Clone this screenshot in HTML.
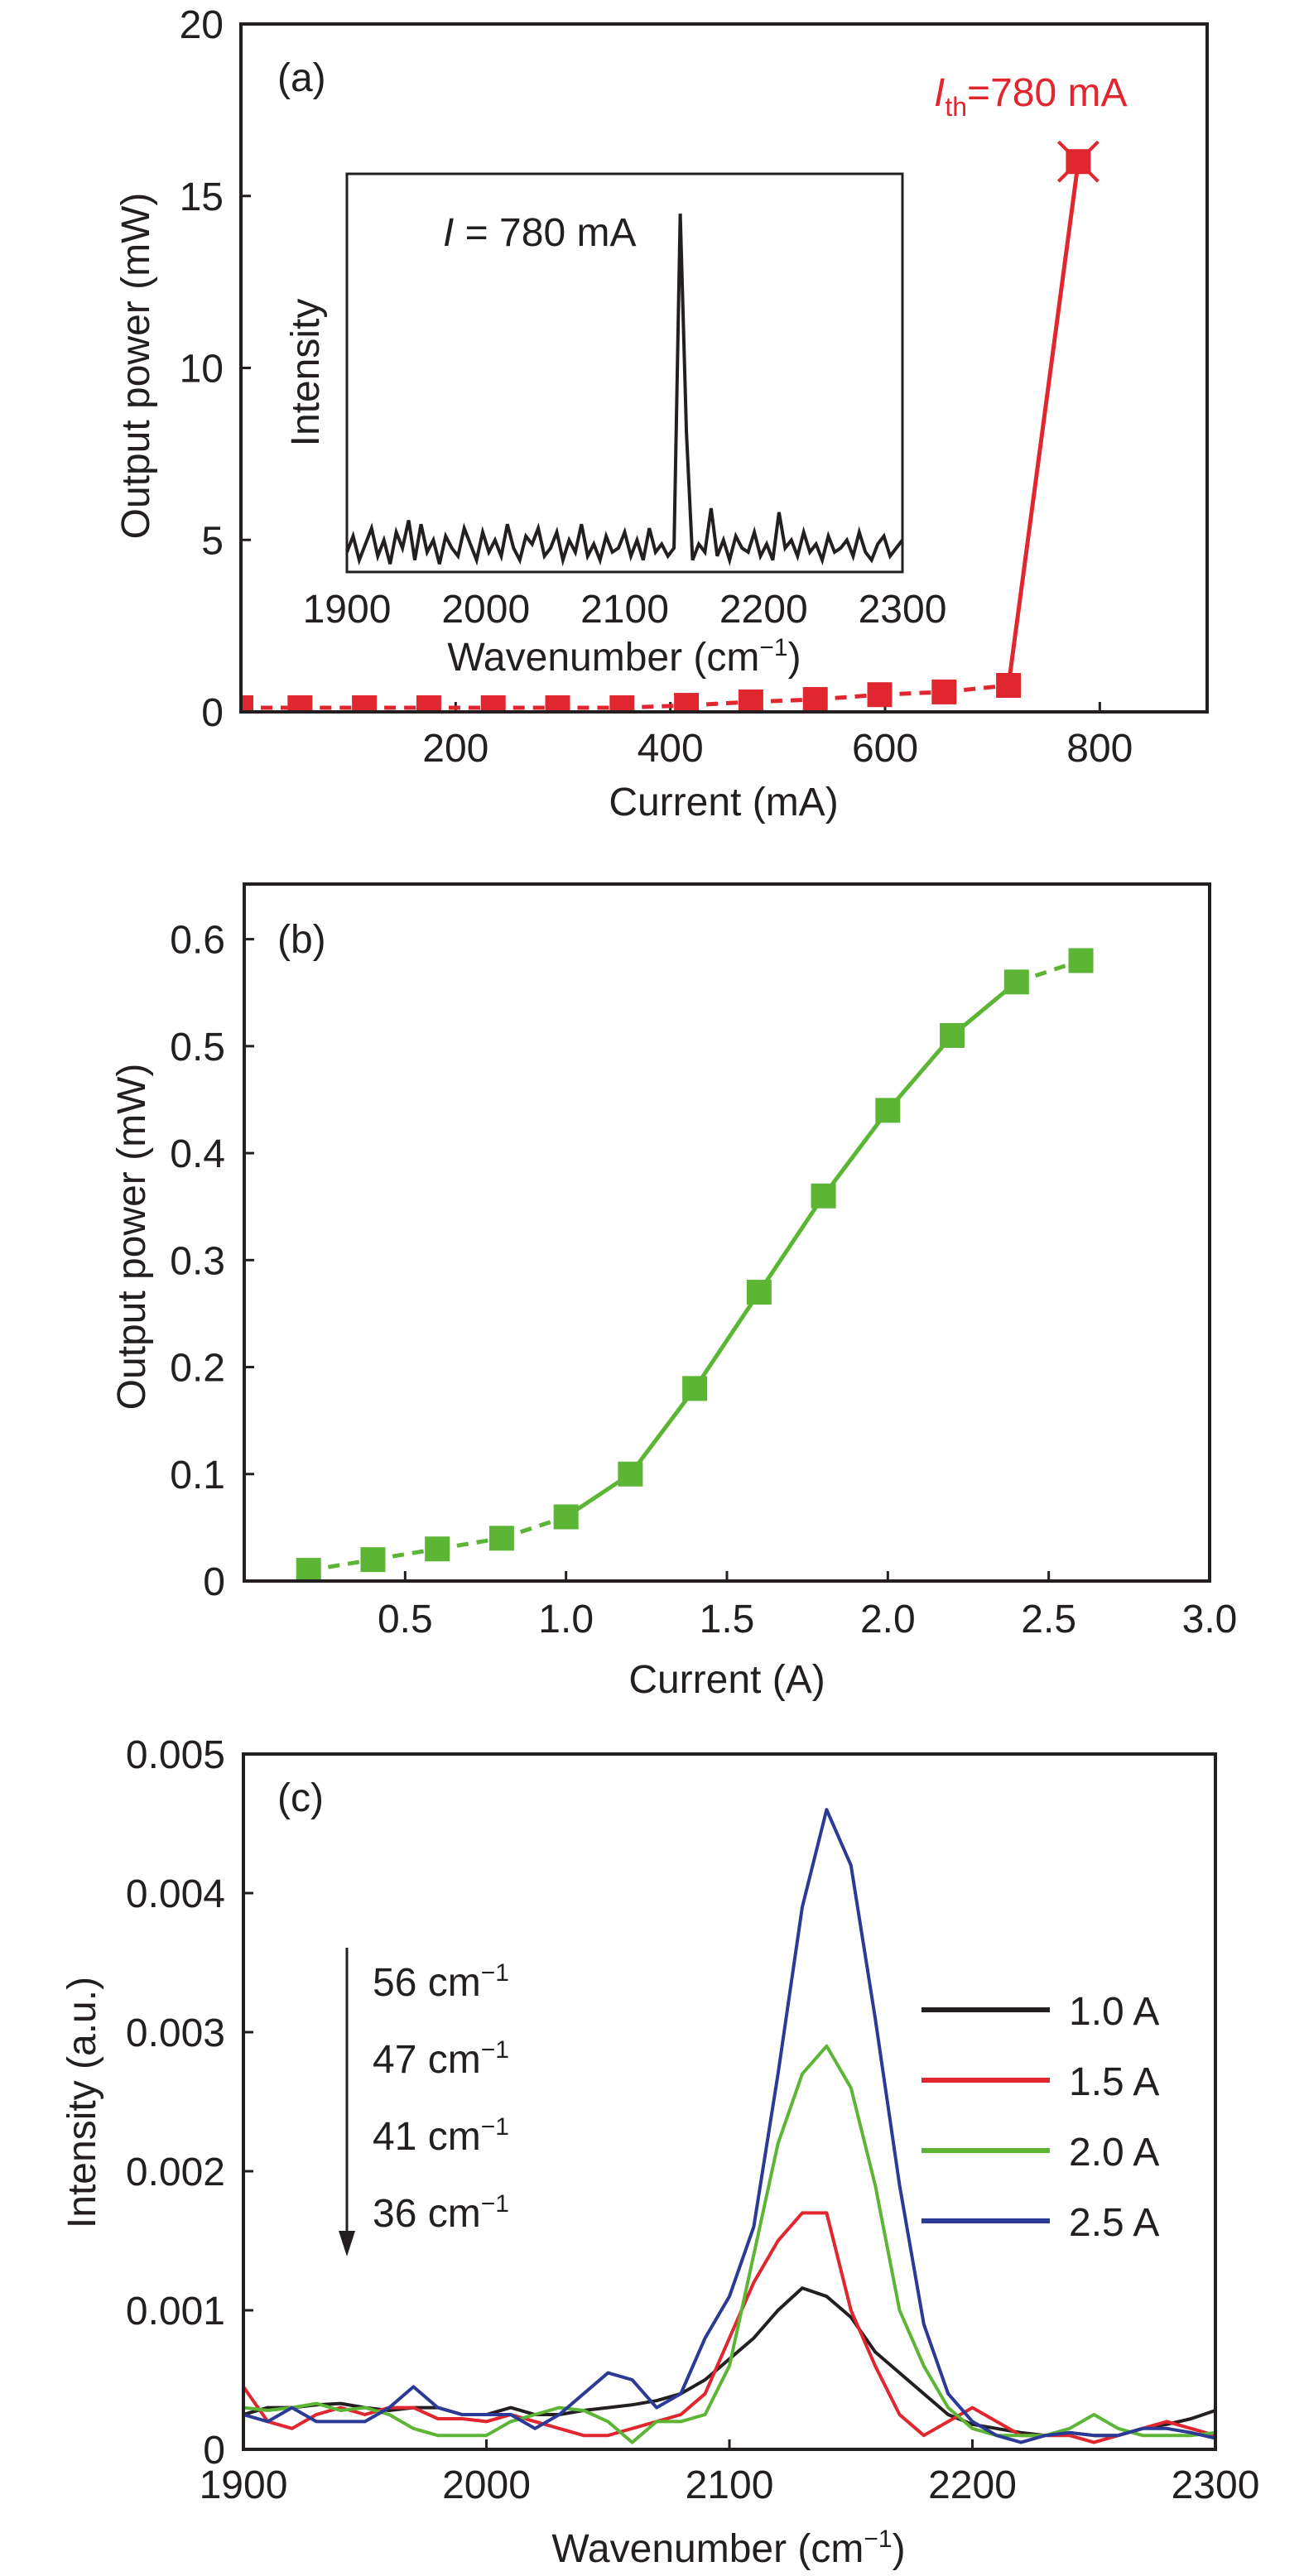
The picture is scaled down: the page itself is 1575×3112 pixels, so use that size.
<!DOCTYPE html>
<html><head><meta charset="utf-8"><style>
html,body{margin:0;padding:0;background:#fff;}
svg{display:block;}
text{font-family:"Liberation Sans",sans-serif;fill:#231f20;}
.tk{font-size:48px;}
.tt{font-size:48px;}
</style></head>
<body>
<svg id="fig" width="1575" height="3112" viewBox="0 0 1575 3112" xmlns="http://www.w3.org/2000/svg"></svg>
<script>
// ---------- Panel (a) data ----------
const aCurrent = [0,55,115,175,235,295,355,415,475,535,595,655,715,780];
const aPower = [0.12,0.12,0.12,0.12,0.12,0.12,0.12,0.19,0.29,0.36,0.5,0.58,0.77,16];
const aXTicks = [200,400,600,800];
const aYTicks = [0,5,10,15,20];
// inset
const insetTicks = [1900,2000,2100,2200,2300];
const insetNoise = [0.05,0.09,0.03,0.07,0.11,0.04,0.08,0.02,0.1,0.06,0.13,0.03,0.12,0.05,0.08,0.02,0.09,0.06,0.04,0.11,0.07,0.03,0.1,0.05,0.08,0.04,0.12,0.06,0.03,0.09,0.07,0.11,0.04,0.06,0.1,0.03,0.08,0.05,0.12,0.04,0.07,0.03,0.09,0.05,0.06,0.1,0.04,0.08,0.03,0.11,0.05,0.07,0.04,0.06,0.9,0.35,0.03,0.07,0.05,0.16,0.04,0.08,0.03,0.09,0.06,0.05,0.1,0.04,0.07,0.03,0.15,0.06,0.08,0.04,0.1,0.05,0.07,0.03,0.09,0.05,0.06,0.08,0.04,0.1,0.05,0.03,0.07,0.09,0.04,0.06,0.08];
// ---------- Panel (b) data ----------
const bCurrent = [0.2,0.4,0.6,0.8,1.0,1.2,1.4,1.6,1.8,2.0,2.2,2.4,2.6];
const bPower = [0.01,0.02,0.03,0.04,0.06,0.1,0.18,0.27,0.36,0.44,0.51,0.56,0.58];
const bXTicks = [0.5,1.0,1.5,2.0,2.5,3.0];
const bYTicks = [0,0.1,0.2,0.3,0.4,0.5,0.6];
// ---------- Panel (c) data ----------
const cWave = [1900,1910,1920,1930,1940,1950,1960,1970,1980,1990,2000,2010,2020,2030,2040,2050,2060,2070,2080,2090,2100,2110,2120,2130,2140,2150,2160,2170,2180,2190,2200,2210,2220,2230,2240,2250,2260,2270,2280,2290,2300];
const c10 = [0.00025,0.0003,0.0003,0.00032,0.00033,0.0003,0.00028,0.0003,0.0003,0.00025,0.00025,0.0003,0.00025,0.00025,0.00028,0.0003,0.00032,0.00035,0.0004,0.0005,0.00065,0.0008,0.001,0.00116,0.0011,0.00095,0.0007,0.00055,0.0004,0.00025,0.00018,0.00015,0.00012,0.0001,0.00012,0.0001,0.0001,0.00015,0.00018,0.00022,0.00028];
const c15 = [0.00045,0.0002,0.00015,0.00025,0.0003,0.00025,0.0003,0.0003,0.00022,0.00022,0.0002,0.00025,0.0002,0.00015,0.0001,0.0001,0.00015,0.0002,0.00025,0.0004,0.0008,0.0012,0.0015,0.0017,0.0017,0.001,0.0006,0.00025,0.0001,0.0002,0.0003,0.0002,0.0001,0.0001,0.0001,0.00005,0.0001,0.00015,0.0002,0.00015,0.0001];
const c20 = [0.0003,0.00028,0.0003,0.00033,0.00028,0.0003,0.00025,0.00015,0.0001,0.0001,0.0001,0.0002,0.00025,0.0003,0.00028,0.0002,0.00005,0.0002,0.0002,0.00025,0.0006,0.0014,0.0022,0.0027,0.0029,0.0026,0.0019,0.001,0.0006,0.0003,0.00015,0.0001,0.0001,0.0001,0.00015,0.00025,0.00015,0.0001,0.0001,0.0001,0.00012];
const c25 = [0.00025,0.0002,0.0003,0.0002,0.0002,0.0002,0.0003,0.00045,0.0003,0.00025,0.00025,0.00025,0.00015,0.00025,0.0004,0.00055,0.0005,0.0003,0.0004,0.0008,0.0011,0.0016,0.0027,0.0039,0.0046,0.0042,0.0031,0.0019,0.0009,0.0004,0.0002,0.0001,0.00005,0.0001,0.00012,0.0001,0.0001,0.00015,0.00015,0.00012,0.00008];
const cSeriesNames = ["1.0 A","1.5 A","2.0 A","2.5 A"];
const cXTicks = [1900,2000,2100,2200,2300];
const cYTicks = [0,0.001,0.002,0.003,0.004,0.005];
const cWidths = ["56","47","41","36"];

const NS="http://www.w3.org/2000/svg";
const svg=document.getElementById('fig');
function el(tag,attrs,parent,txt){const e=document.createElementNS(NS,tag);for(const k in attrs)e.setAttribute(k,attrs[k]);if(txt!==undefined)e.textContent=txt;(parent||svg).appendChild(e);return e;}
function lin(d0,d1,r0,r1){return v=>r0+(v-d0)/(d1-d0)*(r1-r0);}

// ================= Panel A =================
const aG=el('g',{});


const ax=lin(0,900,291,1458), ay=lin(0,20,860,29);
el('defs',{},svg).innerHTML='<clipPath id="clipA"><rect x="291" y="29" width="1167" height="831"/></clipPath><clipPath id="clipB"><rect x="295" y="1068" width="1166" height="842"/></clipPath><clipPath id="clipC"><rect x="294" y="2119" width="1174" height="840"/></clipPath>';
aYTicks.forEach(v=>{
  el('line',{x1:291,x2:303,y1:ay(v),y2:ay(v),stroke:'#231f20','stroke-width':3},aG);
  const t=el('text',{x:270,y:ay(v)+17,'text-anchor':'end',class:'tk'},aG,String(v));
  
  
});
aXTicks.forEach(v=>{
  el('line',{x1:ax(v),x2:ax(v),y1:860,y2:848,stroke:'#231f20','stroke-width':3},aG);
  const t=el('text',{x:ax(v),y:920,'text-anchor':'middle',class:'tk'},aG,String(v));
  
  
});
const aData=el('g',{'clip-path':'url(#clipA)'},aG);
for(let i=0;i<aCurrent.length-1;i++){
  const last=i===aCurrent.length-2;
  el('line',{x1:ax(aCurrent[i]),y1:ay(aPower[i]),x2:ax(aCurrent[i+1]),y2:ay(aPower[i+1]),stroke:'#e0262f','stroke-width':5,'stroke-dasharray':last?'none':'14 10'},aData);
}
aCurrent.forEach((c,i)=>{
  const r=el('rect',{x:ax(c)-15,y:ay(aPower[i])-15,width:30,height:30,fill:'#e0262f'},aData);
  
  
});
// X-shaped decoration on threshold marker
const tx=ax(780),ty=ay(16);
el('path',{d:`M${tx-24} ${ty-24}L${tx+24} ${ty+24}M${tx+24} ${ty-24}L${tx-24} ${ty+24}`,stroke:'#e0262f','stroke-width':4},aG);
el('rect',{x:291,y:29,width:1167,height:831,fill:'none',stroke:'#231f20','stroke-width':4},aG);
el('text',{x:335,y:110,class:'tt'},aG,'(a)');
const ith=el('text',{x:1128,y:128,class:'tt',style:'fill:#e0262f'},aG);


ith.innerHTML='<tspan font-style="italic" style="fill:#e0262f">I</tspan><tspan dy="12" font-size="32" style="fill:#e0262f">th</tspan><tspan dy="-12" style="fill:#e0262f">=780 mA</tspan>';
const axt=el('text',{x:874,y:985,'text-anchor':'middle',class:'tt'},aG,'Current (mA)');


const ayt=el('text',{x:0,y:0,'text-anchor':'middle',class:'tt',transform:'translate(180,442) rotate(-90)'},aG,'Output power (mW)');


// inset
const iG=el('g',{},aG);


const ix=lin(1900,2300,419,1090), iy=lin(0,1,691,210);
el('rect',{x:419,y:210,width:671,height:481,fill:'#fff'},iG);
const step=400/(insetNoise.length-1);
let pts=insetNoise.map((v,i)=>`${ix(1900+i*step).toFixed(1)},${iy(v).toFixed(1)}`).join(' ');
const ip=el('polyline',{points:pts,fill:'none',stroke:'#231f20','stroke-width':4},iG);


el('rect',{x:419,y:210,width:671,height:481,fill:'none',stroke:'#231f20','stroke-width':3},iG);
insetTicks.forEach(v=>{
  const t=el('text',{x:ix(v),y:752,'text-anchor':'middle',class:'tk'},iG,String(v));
  
  
});
el('text',{x:754,y:810,'text-anchor':'middle',class:'tt'},iG).innerHTML='Wavenumber (cm<tspan dy="-18" font-size="30">−1</tspan><tspan dy="18">)</tspan>';
el('text',{x:0,y:0,'text-anchor':'middle',class:'tt',transform:'translate(385,450) rotate(-90)'},iG,'Intensity');
el('text',{x:535,y:297,class:'tt'},iG).innerHTML='<tspan font-style="italic">I</tspan> = 780 mA';

// ================= Panel B =================
const bG=el('g',{});


const bx=lin(0,3,295,1461), by=lin(0,0.65,1910,1070);
bYTicks.forEach(v=>{
  el('line',{x1:295,x2:307,y1:by(v),y2:by(v),stroke:'#231f20','stroke-width':3},bG);
  const t=el('text',{x:272,y:by(v)+17,'text-anchor':'end',class:'tk'},bG,v===0?'0':v.toFixed(1));
  
  
});
bXTicks.forEach(v=>{
  el('line',{x1:bx(v),x2:bx(v),y1:1910,y2:1898,stroke:'#231f20','stroke-width':3},bG);
  const t=el('text',{x:bx(v),y:1972,'text-anchor':'middle',class:'tk'},bG,v.toFixed(1));
  
  
});
const bData=el('g',{'clip-path':'url(#clipB)'},bG);
for(let i=0;i<bCurrent.length-1;i++){
  const dashed=(i<4||i===bCurrent.length-2);
  el('line',{x1:bx(bCurrent[i]),y1:by(bPower[i]),x2:bx(bCurrent[i+1]),y2:by(bPower[i+1]),stroke:'#5db535','stroke-width':5,'stroke-dasharray':dashed?'14 10':'none'},bData);
}
bCurrent.forEach((c,i)=>{
  const r=el('rect',{x:bx(c)-15,y:by(bPower[i])-15,width:30,height:30,fill:'#5db535'},bData);
  
  
});
el('rect',{x:295,y:1068,width:1166,height:842,fill:'none',stroke:'#231f20','stroke-width':4},bG);
el('text',{x:335,y:1151,class:'tt'},bG,'(b)');
const bxt=el('text',{x:878,y:2045,'text-anchor':'middle',class:'tt'},bG,'Current (A)');


const byt=el('text',{x:0,y:0,'text-anchor':'middle',class:'tt',transform:'translate(175,1494) rotate(-90)'},bG,'Output power (mW)');



// ================= Panel C =================
const cG=el('g',{});


const cx=lin(1900,2300,294,1468), cy=lin(0,0.005,2959,2119);
cYTicks.forEach(v=>{
  el('line',{x1:294,x2:306,y1:cy(v),y2:cy(v),stroke:'#231f20','stroke-width':3},cG);
  const t=el('text',{x:272,y:cy(v)+17,'text-anchor':'end',class:'tk'},cG,v===0?'0':v.toFixed(3));
  
  
});
cXTicks.forEach(v=>{
  el('line',{x1:cx(v),x2:cx(v),y1:2959,y2:2947,stroke:'#231f20','stroke-width':3},cG);
  const t=el('text',{x:cx(v),y:3018,'text-anchor':'middle',class:'tk'},cG,String(v));
  
  
});
const cColors=['#231f20','#e0262f','#5db535','#2b3a94'];
const cData=el('g',{'clip-path':'url(#clipC)'},cG);
[c10,c15,c20,c25].forEach((s,k)=>{
  const p=el('polyline',{points:s.map((v,i)=>`${cx(cWave[i]).toFixed(1)},${cy(v).toFixed(1)}`).join(' '),fill:'none',stroke:cColors[k],'stroke-width':4,'stroke-linejoin':'round'},cData);
  
  
});
el('rect',{x:294,y:2119,width:1174,height:840,fill:'none',stroke:'#231f20','stroke-width':4},cG);
el('text',{x:335,y:2188,class:'tt'},cG,'(c)');
cSeriesNames.forEach((n,k)=>{
  const yy=2428+k*85;
  const lg=el('g',{},cG);
  
  
  el('line',{x1:1113,x2:1268,y1:yy,y2:yy,stroke:cColors[k],'stroke-width':6},lg);
  el('text',{x:1291,y:yy+18,class:'tt'},lg,n);
});
el('line',{x1:419,x2:419,y1:2353,y2:2700,stroke:'#231f20','stroke-width':3},cG);
el('path',{d:'M409 2695 L429 2695 L419 2726 Z',fill:'#231f20'},cG);
cWidths.forEach((w,k)=>{
  const t=el('text',{x:450,y:2411+k*93,class:'tt'},cG);
  t.innerHTML=w+' cm<tspan dy="-18" font-size="30">−1</tspan>';
  
  
});
const cxt=el('text',{x:880,y:3095,'text-anchor':'middle',class:'tt'},cG);
cxt.innerHTML='Wavenumber (cm<tspan dy="-18" font-size="30">−1</tspan><tspan dy="18">)</tspan>';


const cyt=el('text',{x:0,y:0,'text-anchor':'middle',class:'tt',transform:'translate(115,2540) rotate(-90)'},cG,'Intensity (a.u.)');


</script>
</body></html>
